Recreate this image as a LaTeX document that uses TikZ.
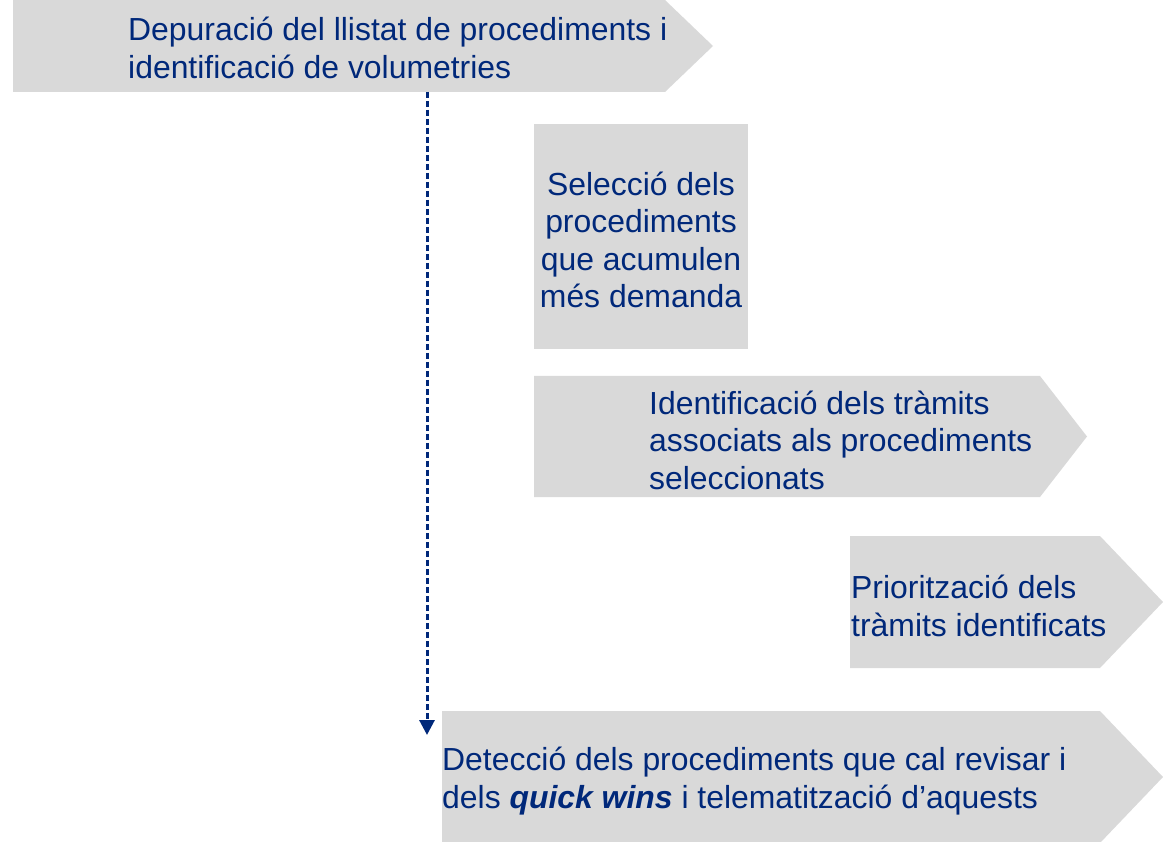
\documentclass[tikz,border=0pt]{standalone}
\usepackage{fontspec}
\setmainfont{Liberation Sans}
\usetikzlibrary{arrows.meta}
\definecolor{navy}{RGB}{0,40,122}
\definecolor{boxgray}{RGB}{217,217,217}
\begin{document}
\begin{tikzpicture}[x=1pt,y=-1pt,
  shapefill/.style={fill=boxgray,draw=none},
  label/.style={inner sep=0pt,text=navy,font=\fontsize{31.9}{37.5}\selectfont},
  flowarrow/.style={draw=navy,line width=3pt,dash pattern=on 6pt off 3pt,
    -{Triangle[width=15pt,length=15pt]}}]
\useasboundingbox (0,0) rectangle (1163,842);
% shapes
\fill[shapefill] (13,0) -- (665,0) -- (713,46) -- (665,92) -- (13,92) -- cycle;
\fill[shapefill] (534,124) rectangle (748,349);
\fill[shapefill] (534,376) -- (1040,376) -- (1087,436.5) -- (1040,497) -- (534,497) -- cycle;
\fill[shapefill] (850,536) -- (1100,536) -- (1163,602) -- (1100,668) -- (850,668) -- cycle;
\fill[shapefill] (442,711) -- (1100,711) -- (1163,777) -- (1100,843) -- (442,843) -- cycle;
% texts
\node[label,anchor=west,align=left] (t1) at (128,48) {Depuració del llistat de procediments i\\identificació de volumetries};
\node[label,align=center] (t2) at (641,240) {Selecció dels\\procediments\\que acumulen\\més demanda};
\node[label,anchor=west,align=left] (t3) at (649,440) {Identificació dels tràmits\\associats als procediments\\seleccionats};
\node[label,anchor=west,align=left] (t4) at (851,606) {Priorització dels\\tràmits identificats};
\node[label,anchor=west,align=left] (t5) at (442,781) {Detecció dels procediments que cal revisar i\\dels \textbf{\textit{quick wins}} i telematització d’aquests};
% connector
\coordinate (dstart) at (427,92);
\coordinate (dend) at (427,735);
\draw[flowarrow] (dstart) -- (dend);
\end{tikzpicture}
\end{document}
